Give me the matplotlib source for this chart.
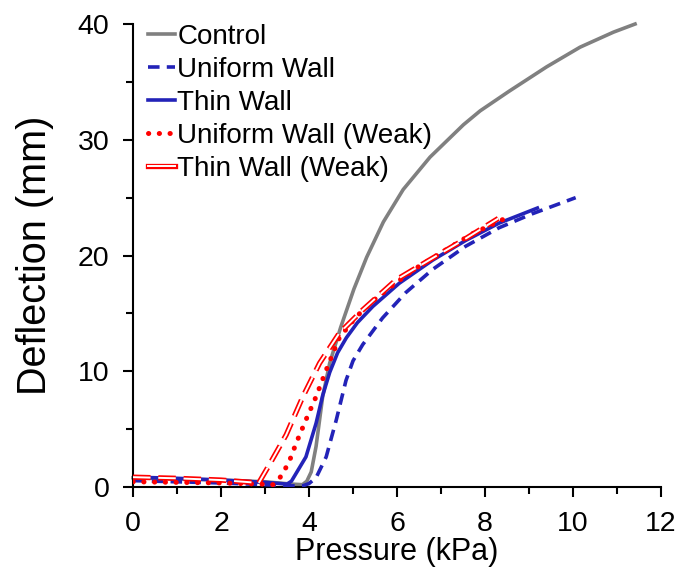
import matplotlib
matplotlib.use("Agg")
import matplotlib.pyplot as plt
import matplotlib.patheffects as pe
from matplotlib.ticker import MultipleLocator

plt.rcParams['font.family'] = ['Liberation Sans', 'DejaVu Sans']

# Control
ctrl_x = [0, 1, 2, 3, 3.6, 3.85, 3.95, 4.05, 4.16, 4.31, 4.47, 4.72, 5.02, 5.31, 5.69, 6.14, 6.75,
          7.51, 7.89, 8.55, 9.40, 10.16, 10.92, 11.41]
ctrl_y = [0.8, 0.7, 0.6, 0.45, 0.25, 0.2, 0.5, 1.3, 3.5, 7.8, 10.7, 13.8, 17.1, 19.85, 22.9, 25.7, 28.5,
          31.3, 32.5, 34.2, 36.3, 38.0, 39.3, 40.0]

# Uniform Wall
uni_x = [0, 1, 2, 3, 3.6, 3.86, 4.0, 4.16, 4.39, 4.62, 4.84, 5.0, 5.22, 5.67, 6.2, 6.81, 7.56, 8.32, 9.07, 10.06]
uni_y = [0.55, 0.45, 0.35, 0.2, 0.1, 0.1, 0.3, 0.8, 2.6, 5.8, 9.2, 10.9, 12.3, 14.6, 16.8, 18.8, 20.8, 22.4, 23.6, 25.0]

# Thin Wall
thin_x = [0, 1, 2, 3, 3.5, 3.6, 3.71, 3.93, 4.16, 4.31, 4.47, 4.65, 4.85, 5.1, 5.45, 6.05, 6.81, 7.56, 8.32, 9.19]
thin_y = [0.85, 0.75, 0.6, 0.4, 0.25, 0.5, 1.2, 2.6, 5.5, 7.9, 9.9, 11.6, 12.9, 14.2, 15.6, 17.6, 19.6, 21.3, 22.8, 24.1]

# Uniform Wall (Weak)
uniw_x = [0, 1, 2, 2.9, 3.18, 3.3, 3.41, 3.56, 3.71, 3.93, 4.16, 4.39, 4.69, 5.07, 5.52, 6.0, 6.43, 7.03, 7.72, 8.40]
uniw_y = [0.45, 0.4, 0.35, 0.25, 0.2, 0.6, 1.2, 2.3, 3.8, 5.8, 7.8, 10.1, 12.9, 14.7, 16.3, 17.7, 18.9, 20.3, 21.9, 23.1]

# Thin Wall (Weak)
thinw_x = [0, 1, 2, 2.7, 2.85, 3.11, 3.48, 3.86, 4.24, 4.69, 5.22, 5.98, 6.73, 7.49, 8.3]
thinw_y = [0.85, 0.75, 0.6, 0.4, 0.3, 2.0, 4.5, 7.8, 10.7, 13.3, 15.3, 17.9, 19.6, 21.3, 23.2]

labels = ["Control", "Uniform Wall", "Thin Wall", "Uniform Wall (Weak)", "Thin Wall (Weak)"]

fig = plt.figure(figsize=(6.8, 5.79), dpi=100)
ax = fig.add_axes([0.1956, 0.1589, 0.7765, 0.7996])

blue = '#2323B8'
ax.plot(ctrl_x, ctrl_y, color='#808080', lw=2.6, label=labels[0], zorder=2, clip_on=False,
        solid_joinstyle='round')
ax.plot(uni_x, uni_y, color=blue, lw=2.6, ls=(0, (3.2, 2.0)), label=labels[1], zorder=3)
ax.plot(thin_x, thin_y, color=blue, lw=2.6, label=labels[2], zorder=3, solid_joinstyle='round')
ax.plot(uniw_x, uniw_y, color='#FF0000', lw=3.6, ls=(0, (0.05, 2.1)), dash_capstyle='round',
        label=labels[3], zorder=4)
ax.plot(thinw_x, thinw_y, color='white', lw=1.4, ls=(0, (9, 4)), label=labels[4], zorder=5,
        path_effects=[pe.Stroke(linewidth=3.8, foreground='#FF0000'), pe.Normal()])

ax.set_xlim(0, 12)
ax.set_ylim(0, 40)
ax.xaxis.set_major_locator(MultipleLocator(2))
ax.xaxis.set_minor_locator(MultipleLocator(1))
ax.yaxis.set_major_locator(MultipleLocator(10))
ax.yaxis.set_minor_locator(MultipleLocator(5))
for s in ['top', 'right']:
    ax.spines[s].set_visible(False)
for s in ['left', 'bottom']:
    ax.spines[s].set_linewidth(1.5)
ax.tick_params(axis='both', which='major', direction='out', length=7, width=1.5, labelsize=20.5)
ax.tick_params(axis='x', which='major', pad=10)
ax.tick_params(axis='y', which='major', pad=10)
ax.tick_params(axis='both', which='minor', direction='out', length=5, width=1.5)

ax.set_xlabel("Pressure (kPa)", fontsize=22, labelpad=0)
ax.set_ylabel("Deflection (mm)", fontsize=28.5, labelpad=17)

leg = fig.legend(loc='upper left', bbox_to_anchor=(0.218, 0.959), frameon=False, fontsize=20,
                 handlelength=0.95, handletextpad=0.1, labelspacing=0.25, borderpad=0, borderaxespad=0)
leg.legend_handles[4].set_linestyle('-')

fig.savefig("out.png", dpi=100)
